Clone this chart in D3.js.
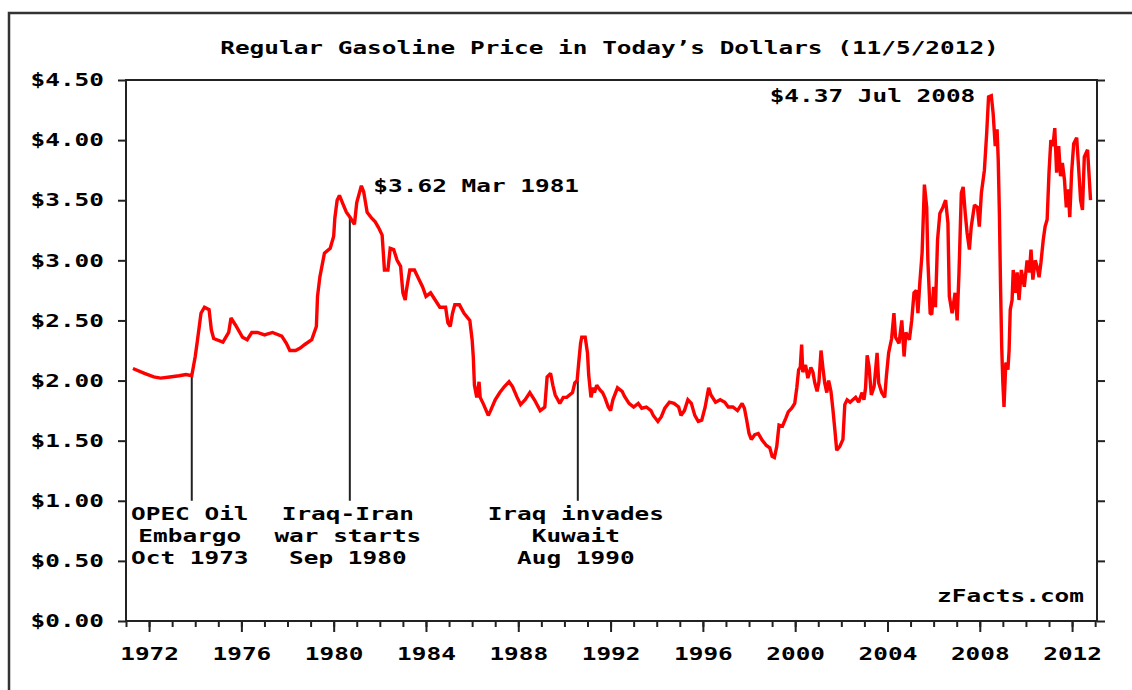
<!DOCTYPE html>
<html>
<head>
<meta charset="utf-8">
<script src="https://cdn.jsdelivr.net/npm/d3@7"></script>
<style>
  html, body { margin: 0; padding: 0; background: #fff; }
  svg { display: block; }
  text { font-family: "DejaVu Sans Mono", monospace; font-weight: bold; font-size: 18px; fill: #000; }
</style>
</head>
<body>
<svg id="chart" width="1132" height="690"></svg>
<script>
// ---------- DATA ----------
const titleText = "Regular Gasoline Price in Today\u2019s Dollars (11/5/2012)";

// decimal year of each observation
const dates = [
  1971.3,1971.8,1972.2,1972.5,1972.9,1973.3,1973.6,1973.85,1974.0,1974.1,1974.25,1974.4,1974.6,1974.7,1974.8,
  1975.2,1975.45,1975.55,1975.75,1976.05,1976.25,1976.45,1976.7,1977.0,1977.35,1977.75,1977.95,1978.1,1978.35,
  1978.55,1978.75,1979.05,1979.25,1979.3,1979.4,1979.5,1979.6,1979.85,1980.0,1980.05,1980.15,1980.25,1980.4,
  1980.55,1980.7,1980.9,1981.0,1981.2,1981.3,1981.45,1981.65,1981.8,1981.95,1982.1,1982.2,1982.35,1982.45,
  1982.6,1982.75,1982.9,1983.0,1983.1,1983.15,1983.3,1983.5,1983.65,1983.85,1984.0,1984.2,1984.4,1984.6,
  1984.85,1984.95,1985.05,1985.15,1985.25,1985.45,1985.65,1985.9,1986.0,1986.05,1986.1,1986.2,1986.3,1986.35,
  1986.5,1986.7,1986.8,1987.0,1987.2,1987.4,1987.6,1987.75,1987.95,1988.1,1988.3,1988.5,1988.7,1988.95,
  1989.15,1989.25,1989.4,1989.5,1989.6,1989.8,1989.95,1990.1,1990.35,1990.45,1990.55,1990.62,1990.7,1990.75,
  1990.9,1991.0,1991.05,1991.15,1991.25,1991.3,1991.4,1991.55,1991.65,1991.75,1991.9,1992.0,1992.1,1992.3,
  1992.5,1992.6,1992.8,1993.0,1993.2,1993.35,1993.55,1993.75,1993.85,1994.05,1994.2,1994.35,1994.55,1994.75,
  1994.95,1995.05,1995.2,1995.35,1995.5,1995.65,1995.8,1995.95,1996.1,1996.25,1996.35,1996.55,1996.75,1996.95,
  1997.1,1997.3,1997.5,1997.7,1997.8,1997.9,1998.0,1998.1,1998.25,1998.4,1998.55,1998.75,1998.9,1999.0,
  1999.1,1999.2,1999.3,1999.45,1999.6,1999.7,1999.85,1999.98,2000.07,2000.15,2000.22,2000.28,2000.33,2000.45,
  2000.55,2000.68,2000.77,2000.85,2000.95,2001.03,2001.12,2001.2,2001.28,2001.37,2001.45,2001.55,2001.63,
  2001.72,2001.8,2001.93,2002.07,2002.15,2002.25,2002.38,2002.5,2002.62,2002.75,2002.9,2002.98,2003.05,
  2003.12,2003.2,2003.3,2003.42,2003.55,2003.62,2003.75,2003.88,2003.95,2004.05,2004.18,2004.28,2004.35,
  2004.5,2004.62,2004.72,2004.8,2004.95,2005.05,2005.15,2005.25,2005.32,2005.4,2005.5,2005.6,2005.7,2005.75,
  2005.85,2005.92,2006.0,2006.08,2006.17,2006.27,2006.4,2006.52,2006.62,2006.68,2006.8,2006.93,2007.02,
  2007.1,2007.2,2007.28,2007.37,2007.45,2007.55,2007.63,2007.77,2007.9,2007.98,2008.07,2008.2,2008.3,
  2008.38,2008.5,2008.58,2008.67,2008.75,2008.8,2008.85,2008.9,2008.95,2009.0,2009.05,2009.13,2009.22,
  2009.27,2009.32,2009.4,2009.45,2009.53,2009.62,2009.7,2009.8,2009.93,2010.05,2010.15,2010.22,2010.3,
  2010.4,2010.48,2010.57,2010.65,2010.75,2010.83,2010.92,2011.0,2011.08,2011.17,2011.25,2011.33,2011.42,
  2011.5,2011.58,2011.67,2011.75,2011.83,2011.9,2011.98,2012.07,2012.2,2012.28,2012.37,2012.45,2012.53,
  2012.67,2012.73,2012.8
];

// price in 2012 dollars, one per date
const prices = [
  2.10,2.06,2.03,2.02,2.03,2.04,2.05,2.04,2.20,2.34,2.56,2.61,2.59,2.42,2.35,
  2.32,2.40,2.52,2.46,2.36,2.34,2.40,2.40,2.38,2.40,2.37,2.31,2.25,2.25,
  2.27,2.30,2.34,2.45,2.70,2.86,2.96,3.06,3.10,3.20,3.35,3.50,3.54,3.47,
  3.40,3.36,3.30,3.48,3.62,3.57,3.40,3.35,3.32,3.27,3.21,2.92,2.92,3.10,
  3.09,3.00,2.95,2.73,2.67,2.75,2.92,2.92,2.86,2.78,2.70,2.73,2.67,2.61,
  2.61,2.48,2.45,2.56,2.63,2.63,2.56,2.50,2.34,2.20,1.96,1.86,1.99,1.86,
  1.80,1.71,1.75,1.84,1.90,1.95,1.99,1.95,1.86,1.80,1.84,1.90,1.84,1.75,
  1.78,2.03,2.06,1.96,1.88,1.81,1.86,1.86,1.90,1.98,2.00,2.15,2.31,2.36,
  2.36,2.23,2.05,1.86,1.94,1.90,1.96,1.92,1.90,1.86,1.78,1.75,1.84,1.94,
  1.91,1.87,1.81,1.78,1.81,1.77,1.78,1.75,1.71,1.66,1.70,1.77,1.82,1.81,
  1.78,1.71,1.75,1.84,1.81,1.71,1.66,1.67,1.78,1.94,1.88,1.82,1.84,1.82,
  1.78,1.78,1.75,1.81,1.77,1.67,1.56,1.51,1.55,1.56,1.51,1.46,1.44,1.37,
  1.36,1.45,1.63,1.62,1.69,1.74,1.77,1.81,1.94,2.09,2.11,2.30,2.07,2.13,
  2.02,2.11,2.07,1.98,1.91,1.99,2.25,2.11,1.98,1.90,2.00,1.91,1.77,
  1.59,1.42,1.45,1.51,1.80,1.84,1.82,1.84,1.86,1.82,1.90,1.84,1.94,
  2.21,2.12,1.88,1.95,2.23,1.98,1.90,1.86,2.03,2.23,2.35,2.56,2.36,
  2.31,2.50,2.20,2.40,2.34,2.50,2.73,2.75,2.56,2.81,3.06,3.63,3.44,3.00,
  2.56,2.55,2.78,2.61,3.17,3.39,3.44,3.50,3.31,2.70,2.56,2.73,2.50,
  2.90,3.56,3.61,3.39,3.23,3.09,3.28,3.46,3.44,3.28,3.56,3.75,4.06,
  4.36,4.37,4.22,3.95,4.09,3.83,3.39,2.78,2.28,1.98,1.78,2.15,2.09,
  2.25,2.59,2.67,2.92,2.73,2.90,2.67,2.92,2.78,3.00,2.90,3.09,2.84,
  3.00,2.95,2.86,2.98,3.17,3.28,3.34,3.73,4.00,3.95,4.10,3.73,3.95,
  3.70,3.81,3.67,3.44,3.59,3.36,3.73,3.97,4.02,3.78,3.50,3.42,3.86,
  3.92,3.73,3.50
];

const yTicks = [0, 0.5, 1.0, 1.5, 2.0, 2.5, 3.0, 3.5, 4.0, 4.5];
const yearLabels = [1972, 1976, 1980, 1984, 1988, 1992, 1996, 2000, 2004, 2008, 2012];
const minorYears = d3.range(1971, 2014);

// events with vertical marker lines
const eventDates  = [1973.85, 1980.7, 1990.58];
const eventTops   = [2.04, 3.36, 2.00];
const eventBottom = 1.0;
const eventLabels = [
  ["OPEC Oil", "Embargo", "Oct 1973"],
  ["Iraq-Iran", "war starts", "Sep 1980"],
  ["Iraq invades", "Kuwait", "Aug 1990"]
];

// peak annotations
const peakDates  = [1981.2, 2008.5];
const peakValues = [3.62, 4.37];
const peakLabels = ["$3.62 Mar 1981", "$4.37 Jul 2008"];
const sourceText = "zFacts.com";

// ---------- LAYOUT ----------
const SX = 1.356; // horizontal stretch to mimic the wide bitmap font
const svg = d3.select("#chart");
const pLeft = 126, pRight = 1097, pTop = 80, pBottom = 621;

const x = d3.scaleLinear().domain([1971, 2013.08]).range([pLeft, pRight]);
const y = d3.scaleLinear().domain([0, 4.5]).range([pBottom, pTop]);

function stretchText(sel) {
  sel.each(function () {
    const t = d3.select(this);
    const tx = +t.attr("x") || 0, ty = +t.attr("y") || 0;
    t.attr("x", 0).attr("y", 0).attr("transform", `translate(${tx},${ty}) scale(${SX},1)`);
  });
}
function addText(g, tx, ty, str, anchor) {
  return g.append("text")
    .attr("transform", `translate(${tx},${ty}) scale(${SX},1)`)
    .attr("text-anchor", anchor || "start")
    .text(str);
}

// outer frame
svg.append("rect")
  .attr("x", 9).attr("y", 13).attr("width", 1140).attr("height", 700)
  .attr("fill", "none").attr("stroke", "#333").attr("stroke-width", 2.5);

// title
addText(svg, (pLeft + pRight) / 2 - 2, 54, titleText, "middle");

// axes
const axisStyle = g => {
  g.selectAll("path, line").attr("stroke", "#222").attr("stroke-width", 2);
  g.select(".domain").remove();
};

const yLeft = svg.append("g").attr("transform", `translate(${pLeft},0)`)
  .call(d3.axisLeft(y).tickValues(yTicks).tickSize(8).tickPadding(14)
        .tickFormat(d => "$" + d3.format(".2f")(d)));
yLeft.call(axisStyle);
yLeft.attr("font-size", null).attr("font-family", null);
yLeft.selectAll("text").attr("fill", "#000").call(stretchText);

const yRight = svg.append("g").attr("transform", `translate(${pRight},0)`)
  .call(d3.axisRight(y).tickValues(yTicks).tickSize(8).tickFormat(""));
yRight.call(axisStyle);

const xMinor = svg.append("g").attr("transform", `translate(0,${pBottom})`)
  .call(d3.axisBottom(x).tickValues(minorYears).tickSize(6).tickFormat(""));
xMinor.call(axisStyle);

const xMajor = svg.append("g").attr("transform", `translate(0,${pBottom})`)
  .call(d3.axisBottom(x).tickValues(yearLabels).tickSize(11).tickPadding(15).tickFormat(d3.format("d")));
xMajor.call(axisStyle);
xMajor.attr("font-size", null).attr("font-family", null);
xMajor.selectAll("text").attr("fill", "#000").call(stretchText);

// plot frame lines
svg.append("path")
  .attr("d", `M${pLeft},${pBottom}V${pTop}H${pRight}V${pBottom}Z`)
  .attr("fill", "none").attr("stroke", "#222").attr("stroke-width", 2);

// event marker lines
const evG = svg.append("g");
eventDates.forEach((d, i) => {
  evG.append("line")
    .attr("x1", x(d)).attr("x2", x(d))
    .attr("y1", y(eventBottom)).attr("y2", y(eventTops[i]))
    .attr("stroke", "#222").attr("stroke-width", 2);
  eventLabels[i].forEach((s, j) => {
    addText(evG, x(d) - 2, y(eventBottom) + 19 + j * 22, s, "middle");
  });
});

// price line
const line = d3.line().x((d, i) => x(dates[i])).y((d, i) => y(prices[i]));
svg.append("path")
  .datum(prices)
  .attr("d", line)
  .attr("fill", "none")
  .attr("stroke", "#ff0000")
  .attr("stroke-width", 3.4)
  .attr("stroke-linejoin", "miter")
  .attr("stroke-miterlimit", 2);

// peak annotations
addText(svg, x(peakDates[0]) + 12, y(peakValues[0]) + 6.5, peakLabels[0], "start");
addText(svg, x(peakDates[1]) - 16, y(peakValues[1]) + 6.5, peakLabels[1], "end");

// source
addText(svg, pRight - 13, y(0) - 19, sourceText, "end");
</script>
</body>
</html>
